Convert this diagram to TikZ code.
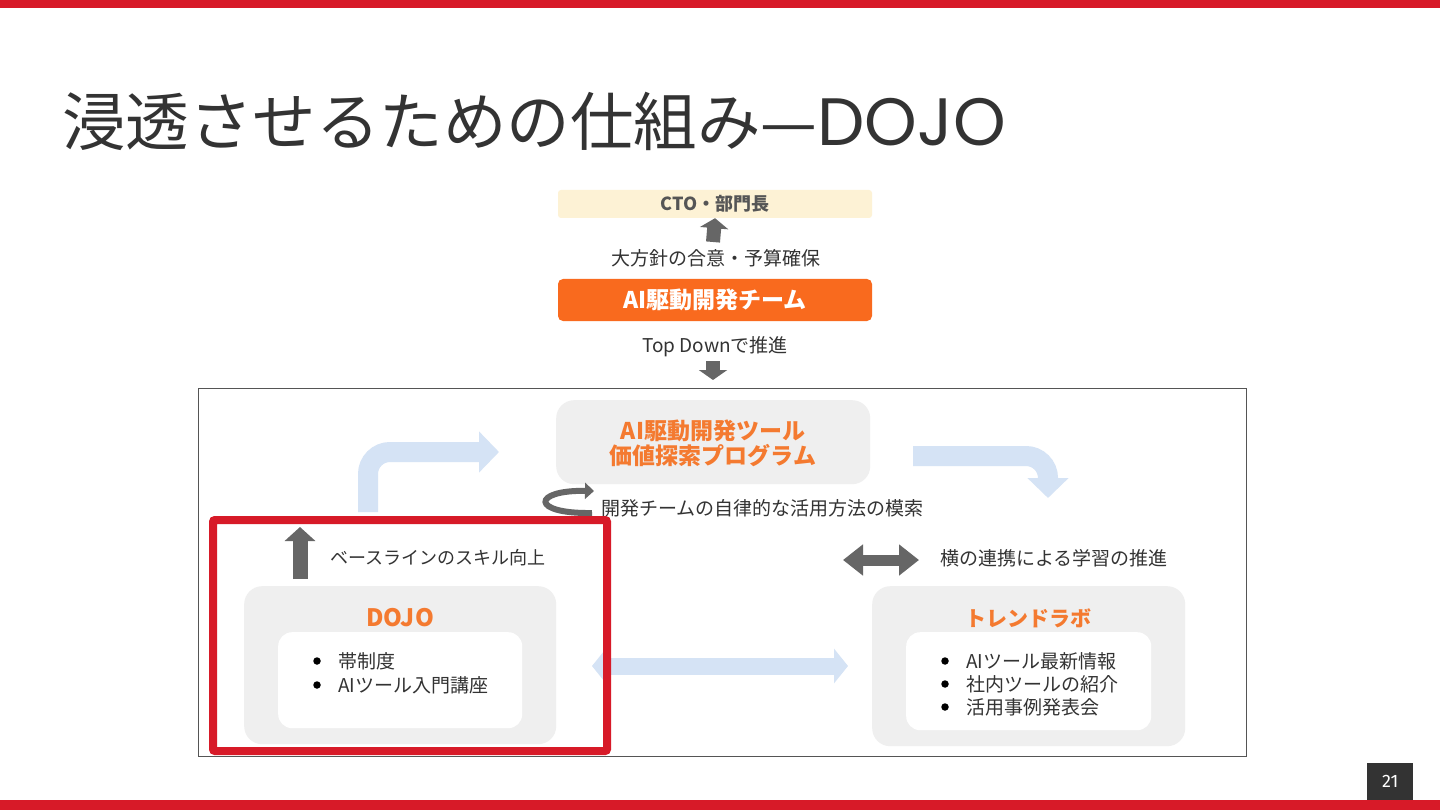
\documentclass[tikz,border=0pt]{standalone}
\usepackage{fontspec}
\setmainfont{Noto Sans CJK JP}
\newfontfamily\numfont{Fira Sans}
\newfontfamily\latfont{Poppins}
\usetikzlibrary{arrows.meta}
\definecolor{redbar}{HTML}{D71A28}
\definecolor{orng}{HTML}{F96A1E}
\definecolor{orgtxt}{HTML}{F47A30}
\definecolor{cream}{HTML}{FDF2D5}
\definecolor{boxgray}{HTML}{EFEFEF}
\definecolor{arrgray}{HTML}{666666}
\definecolor{lblue}{HTML}{D5E3F5}
\definecolor{txt}{HTML}{333333}
\definecolor{frame}{HTML}{555555}
\tikzset{
  lbl/.style={inner sep=0, text=txt, font=\fontsize{19}{22}\selectfont},
  graybox/.style={fill=boxgray, rounded corners=18pt, draw=none},
  whitebox/.style={fill=white, rounded corners=14pt, draw=none},
  title2/.style={inner sep=0, text=orgtxt, font=\bfseries\fontsize{23}{26}\selectfont, align=center},
  itemtxt/.style={inner sep=0, text=txt, font=\fontsize{19}{23}\selectfont, anchor=west},
  bulletdot/.style={circle, fill=black, inner sep=0, minimum size=7.5pt},
  garrow/.style={draw=arrgray, line width=15pt, -{Triangle[width=30pt,length=14pt]}},
  garrowsmall/.style={draw=arrgray, line width=14pt, -{Triangle[width=28pt,length=10pt]}},
  barrow/.style={draw=lblue, line width=20pt, rounded corners=22pt, -{Triangle[width=40pt,length=20pt]}},
}
\begin{document}
\begin{tikzpicture}[x=1pt,y=-1pt]
\useasboundingbox (0,0) rectangle (1440,810);
\fill[white] (0,0) rectangle (1440,810);
% bars
\fill[redbar] (0,0) rectangle (1440,8);
\fill[redbar] (0,800) rectangle (1440,810);
\node[fill=txt, minimum width=46pt, minimum height=37pt, inner sep=0, anchor=north west, text=white, font=\numfont\fontsize{18}{18}\selectfont] (pg) at (1367,763) {21};
% title
\node[inner sep=0, anchor=base west, text=txt, font=\fontsize{63.5}{70}\selectfont] (title) at (62,146) {浸透させるための仕組み—{\latfont\fontsize{67}{70}\selectfont DOJO}};

% top chain
\node[fill=cream, rounded corners=3pt, minimum width=314pt, minimum height=28pt, inner sep=0, text=frame, font=\bfseries\fontsize{18}{18}\selectfont] (cto) at (715,204) {CTO・部門長};
\node[lbl] (agree) at (716,258) {大方針の合意・予算確保};
\node[fill=orng, rounded corners=5pt, minimum width=314pt, minimum height=42pt, inner sep=0, text=white, font=\bfseries\fontsize{23}{23}\selectfont] (team) at (715,300) {AI駆動開発チーム};
\node[lbl] (topdown) at (715,347) {Top Downで推進};
\coordinate (upA) at (713,242);
\coordinate (downA) at (713,361);
\coordinate (downB) at (713,380);
\draw[garrowsmall] (upA) -- (cto.south);
\draw[garrowsmall] (downA) -- (downB);

% outer frame
\node[draw=frame, line width=1pt, minimum width=1048pt, minimum height=368pt, inner sep=0, anchor=north west] (outer) at (198,388) {};

% program box
\node[graybox, minimum width=314pt, minimum height=84pt, inner sep=0, anchor=north west] (prog) at (556,400) {};
\node[title2] (progtxt) at (713,443) {AI駆動開発ツール\\[-1pt]価値探索プログラム};

% DOJO box
\node[graybox, minimum width=312pt, minimum height=158pt, inner sep=0, anchor=north west] (dojo) at (244,586) {};
\node[title2, font=\bfseries\fontsize{24}{26}\selectfont] (dojot) at (400,618) {DOJO};
\node[whitebox, minimum width=244pt, minimum height=96pt, inner sep=0, anchor=north west] (dojoin) at (278,632) {};
\node[bulletdot] (db1) at (317,661) {};
\node[bulletdot] (db2) at (317,685) {};
\node[itemtxt] (di1) at (338,661) {帯制度};
\node[itemtxt] (di2) at (338,685) {AIツール入門講座};

% Trend lab box
\node[graybox, minimum width=313pt, minimum height=160pt, inner sep=0, anchor=north west] (trend) at (872,586) {};
\node[title2, font=\bfseries\fontsize{21}{26}\selectfont] (trendt) at (1028,618) {トレンドラボ};
\node[whitebox, minimum width=245pt, minimum height=98pt, inner sep=0, anchor=north west] (trendin) at (906,632) {};
\node[bulletdot] (tb1) at (945,661) {};
\node[bulletdot] (tb2) at (945,684) {};
\node[bulletdot] (tb3) at (945,707) {};
\node[itemtxt] (ti1) at (966,661) {AIツール最新情報};
\node[itemtxt] (ti2) at (966,684) {社内ツールの紹介};
\node[itemtxt] (ti3) at (966,707) {活用事例発表会};

% labels
\node[lbl, anchor=west] (explore) at (601,508) {開発チームの自律的な活用方法の模索};
\node[lbl, font=\fontsize{18}{22}\selectfont, anchor=west] (base) at (330,558) {ベースラインのスキル向上};
\node[lbl, anchor=west] (yoko) at (940,558) {横の連携による学習の推進};

% light blue arrows
\coordinate (b1s) at (368,512);
\coordinate (b1c) at (368,452);
\coordinate (b1e) at (499,452);
\draw[barrow] (b1s) -- (b1c) -- (b1e);
\coordinate (b2s) at (913,456);
\coordinate (b2c) at (1048,456);
\coordinate (b2e) at (1048,498);
\draw[barrow] (b2s) -- (b2c) -- (b2e);
\coordinate (hs) at (592,666);
\coordinate (he) at (848,666);
\draw[draw=lblue, line width=17pt, {Triangle[width=34pt,length=14pt]}-{Triangle[width=34pt,length=14pt]}] (hs) -- (he);

% gray arrows
\coordinate (c1) at (592,513);
\coordinate (c2) at (594,491);
\draw[draw=arrgray, line width=6pt, -{Triangle[width=16pt,length=9pt]}] (c1) .. controls (530,514) and (532,490) .. (c2);
\coordinate (u1) at (300,579);
\coordinate (u2) at (300,527);
\draw[garrow] (u1) -- (u2);
\coordinate (d1) at (843,560);
\coordinate (d2) at (919,560);
\draw[draw=arrgray, line width=11pt, {Triangle[width=30pt,length=20pt]}-{Triangle[width=30pt,length=20pt]}] (d1) -- (d2);

% red highlight
\draw[redbar, line width=8pt, rounded corners=2pt] (213,520) rectangle (607,751);
\end{tikzpicture}
\end{document}
